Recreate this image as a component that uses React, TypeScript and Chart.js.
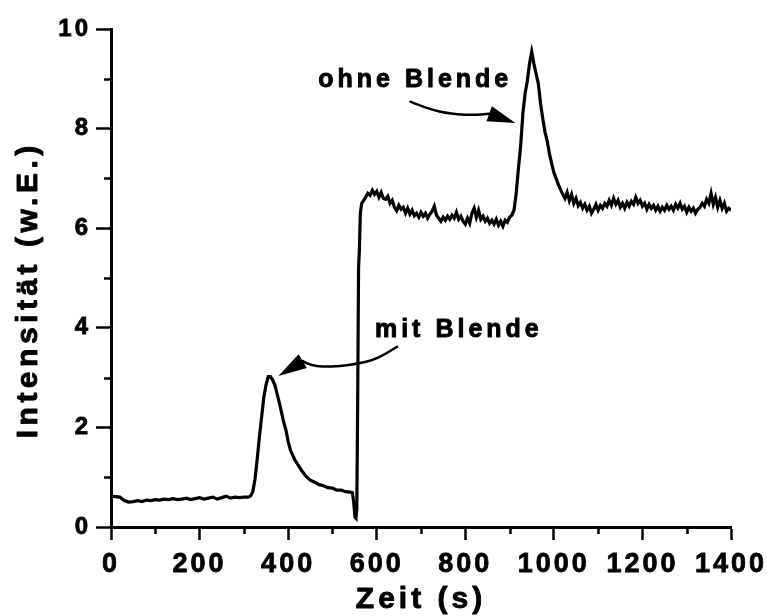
import React, { useEffect, useRef } from "react";
import { Chart, registerables } from "chart.js";

Chart.register(...registerables);

// ---- data (time in s, intensity in w.E.) ----
const baselineTimes = [0, 10, 20, 30, 40, 50, 60, 70, 80, 90, 100, 110, 120, 130, 140, 150, 160, 170, 180, 190, 200, 210, 220, 230, 240, 250, 260, 270, 280, 290, 300, 310];
const baselineValues = [0.62, 0.61, 0.6, 0.53, 0.5, 0.51, 0.53, 0.51, 0.54, 0.53, 0.55, 0.54, 0.56, 0.55, 0.57, 0.55, 0.56, 0.58, 0.55, 0.57, 0.59, 0.56, 0.58, 0.6, 0.56, 0.59, 0.62, 0.58, 0.6, 0.59, 0.6, 0.6];

const firstPeakTimes = [315, 320, 325, 330, 335, 340, 345, 350, 355, 360, 365, 370, 375, 380, 385, 390, 395, 400, 405, 410, 415, 420, 430, 440, 450, 460, 470, 480, 490, 500, 510, 520, 530, 540, 545];
const firstPeakValues = [0.62, 0.7, 0.95, 1.35, 1.8, 2.2, 2.6, 2.85, 3.02, 3.02, 2.95, 2.85, 2.68, 2.5, 2.3, 2.1, 1.95, 1.72, 1.55, 1.45, 1.35, 1.28, 1.14, 1.02, 0.94, 0.9, 0.85, 0.83, 0.79, 0.78, 0.74, 0.74, 0.71, 0.7, 0.69];

const jumpTimes = [548, 551, 553, 555, 557, 559, 561, 563, 566];
const jumpValues = [0.5, 0.2, 0.18, 0.35, 2.5, 5.2, 5.6, 6.3, 6.5];

const plateauTimes = [570, 575, 580, 585, 590, 595, 600, 605, 610, 615, 620, 625, 630, 635, 640, 645, 650, 655, 660, 665, 670, 675, 680, 685, 690, 695, 700, 705, 710, 715, 720, 725, 730, 735, 740, 745, 750, 755, 760, 765, 770, 775, 780, 785, 790, 795, 800, 805, 810, 815, 820, 825, 830, 835, 840, 845, 850, 855, 860, 865, 870, 875, 880, 885, 890, 895, 900, 905, 910];
const plateauValues = [6.55, 6.62, 6.7, 6.66, 6.76, 6.68, 6.74, 6.62, 6.72, 6.6, 6.58, 6.64, 6.5, 6.56, 6.42, 6.35, 6.46, 6.38, 6.42, 6.3, 6.4, 6.28, 6.36, 6.25, 6.3, 6.22, 6.32, 6.24, 6.3, 6.2, 6.28, 6.34, 6.44, 6.26, 6.2, 6.14, 6.22, 6.16, 6.24, 6.18, 6.26, 6.2, 6.32, 6.18, 6.24, 6.14, 6.08, 6.2, 6.1, 6.3, 6.4, 6.22, 6.36, 6.18, 6.24, 6.14, 6.2, 6.1, 6.16, 6.08, 6.18, 6.06, 6.14, 6.04, 6.16, 6.12, 6.22, 6.26, 6.36];

const secondPeakTimes = [915, 920, 925, 930, 935, 940, 945, 950, 955, 960, 965, 970, 975, 980, 985, 990, 995, 1000, 1005, 1010, 1015, 1020];
const secondPeakValues = [6.7, 7.2, 7.65, 8.3, 8.7, 8.95, 9.3, 9.54, 9.3, 9.1, 8.9, 8.5, 8.2, 7.93, 7.75, 7.5, 7.3, 7.12, 7.0, 6.88, 6.78, 6.68];

const tailTimes = [1025, 1030, 1035, 1040, 1045, 1050, 1055, 1060, 1065, 1070, 1075, 1080, 1085, 1090, 1095, 1100, 1105, 1110, 1115, 1120, 1125, 1130, 1135, 1140, 1145, 1150, 1155, 1160, 1165, 1170, 1175, 1180, 1185, 1190, 1195, 1200, 1205, 1210, 1215, 1220, 1225, 1230, 1235, 1240, 1245, 1250, 1255, 1260, 1265, 1270, 1275, 1280, 1285, 1290, 1295, 1300, 1305, 1310, 1315, 1320, 1325, 1330, 1335, 1340, 1345, 1350, 1355, 1360, 1365, 1370, 1375, 1380, 1385, 1390, 1395, 1400];
const tailValues = [6.6, 6.72, 6.55, 6.68, 6.5, 6.6, 6.45, 6.52, 6.4, 6.48, 6.36, 6.44, 6.3, 6.38, 6.48, 6.36, 6.46, 6.4, 6.5, 6.44, 6.56, 6.46, 6.6, 6.48, 6.56, 6.42, 6.5, 6.4, 6.52, 6.44, 6.54, 6.48, 6.62, 6.5, 6.56, 6.44, 6.5, 6.38, 6.48, 6.4, 6.46, 6.36, 6.44, 6.34, 6.42, 6.36, 6.46, 6.38, 6.44, 6.36, 6.48, 6.4, 6.5, 6.38, 6.44, 6.32, 6.42, 6.34, 6.4, 6.3, 6.38, 6.42, 6.5, 6.44, 6.58, 6.5, 6.7, 6.48, 6.62, 6.42, 6.56, 6.4, 6.5, 6.34, 6.4, 6.36];

// ---- axes ----
const xTickValues = [0, 200, 400, 600, 800, 1000, 1200, 1400];
const xMinorTicks = [100, 300, 500, 700, 900, 1100, 1300];
const yTickValues = [0, 2, 4, 6, 8, 10];
const yMinorTicks = [1, 3, 5, 7, 9];
const xTitle = "Zeit (s)";
const yTitle = "Intensität (w.E.)";

// ---- annotations (data coordinates) ----
const mitLabel = "mit Blende";
const mitLabelAnchor = [596, 3.82];
const mitArrowPath = [[646, 3.62], [619, 3.47], [592, 3.35], [556, 3.28], [517, 3.23], [479, 3.22], [450, 3.25], [433, 3.33]];
const mitArrowTip = [378, 3.03];

const ohneLabel = "ohne Blende";
const ohneLabelAnchor = [468, 8.84];
const ohneArrowPath = [[676, 8.54], [698, 8.46], [728, 8.37], [755, 8.32], [782, 8.29], [816, 8.27], [854, 8.3]];
const ohneArrowTip = [913, 8.11];

const FONT = '"Liberation Sans", Arial, Helvetica, sans-serif';

function buildPoints() {
  const segs: [number[], number[]][] = [
    [baselineTimes, baselineValues],
    [firstPeakTimes, firstPeakValues],
    [jumpTimes, jumpValues],
    [plateauTimes, plateauValues],
    [secondPeakTimes, secondPeakValues],
    [tailTimes, tailValues],
  ];
  const pts: { x: number; y: number }[] = [];
  segs.forEach(([ts, vs]) => ts.forEach((t, i) => pts.push({ x: t, y: vs[i] })));
  return pts;
}

function drawSpaced(ctx: CanvasRenderingContext2D, text: string, x: number, y: number, ls: number) {
  ctx.letterSpacing = ls + "px";
  ctx.textAlign = "left";
  ctx.lineWidth = 0.9;
  ctx.strokeStyle = "#000";
  ctx.lineJoin = "round";
  ctx.strokeText(text, x, y);
  ctx.fillText(text, x, y);
}

function drawArrow(chart: any, path: number[][], tip: number[]) {
  const ctx = chart.ctx as CanvasRenderingContext2D;
  const xs = chart.scales.x;
  const ys = chart.scales.y;
  const p = path.map(([t, v]) => [xs.getPixelForValue(t), ys.getPixelForValue(v)]);
  ctx.strokeStyle = "#000";
  ctx.lineWidth = 2.5;
  ctx.lineJoin = "round";
  ctx.lineCap = "round";
  ctx.beginPath();
  ctx.moveTo(p[0][0], p[0][1]);
  for (let i = 1; i < p.length - 1; i++) {
    const mx = (p[i][0] + p[i + 1][0]) / 2;
    const my = (p[i][1] + p[i + 1][1]) / 2;
    ctx.quadraticCurveTo(p[i][0], p[i][1], mx, my);
  }
  ctx.lineTo(p[p.length - 1][0], p[p.length - 1][1]);
  ctx.stroke();
  const base = p[p.length - 1];
  const tx = xs.getPixelForValue(tip[0]);
  const ty = ys.getPixelForValue(tip[1]);
  const dx = tx - base[0];
  const dy = ty - base[1];
  const len = Math.hypot(dx, dy);
  const nx = -dy / len;
  const ny = dx / len;
  const hw = 8;
  ctx.fillStyle = "#000";
  ctx.beginPath();
  ctx.moveTo(tx, ty);
  ctx.lineTo(base[0] + nx * hw, base[1] + ny * hw);
  ctx.lineTo(base[0] - nx * hw, base[1] - ny * hw);
  ctx.closePath();
  ctx.fill();
}

const decorPlugin = {
  id: "decor",
  beforeLayout(chart: any) {
    chart.ctx.letterSpacing = "3px";
  },
  beforeDraw(chart: any) {
    chart.ctx.letterSpacing = "3px";
  },
  afterDraw(chart: any) {
    const ctx = chart.ctx as CanvasRenderingContext2D;
    const xs = chart.scales.x;
    const ys = chart.scales.y;
    const area = chart.chartArea;
    ctx.save();
    ctx.strokeStyle = "#000";
    ctx.lineWidth = 2.5;
    ctx.lineCap = "butt";
    xMinorTicks.forEach((v) => {
      const px = Math.round(xs.getPixelForValue(v)) + 0.5;
      ctx.beginPath();
      ctx.moveTo(px, area.bottom);
      ctx.lineTo(px, area.bottom + 7);
      ctx.stroke();
    });
    yMinorTicks.forEach((v) => {
      const py = Math.round(ys.getPixelForValue(v)) + 0.5;
      ctx.beginPath();
      ctx.moveTo(area.left, py);
      ctx.lineTo(area.left - 7, py);
      ctx.stroke();
    });

    ctx.fillStyle = "#000";
    ctx.textBaseline = "alphabetic";
    // x title
    ctx.font = `bold 30px ${FONT}`;
    ctx.letterSpacing = "4px";
    const wx = ctx.measureText(xTitle).width - 4;
    drawSpaced(ctx, xTitle, (area.left + area.right) / 2 - wx / 2 - 2, 608, 4);
    // y title
    ctx.save();
    ctx.translate(37, (area.top + area.bottom) / 2 + 14);
    ctx.rotate(-Math.PI / 2);
    ctx.letterSpacing = "4.5px";
    const wy = ctx.measureText(yTitle).width - 4.5;
    drawSpaced(ctx, yTitle, -wy / 2, 0, 4.5);
    ctx.restore();

    // annotations
    ctx.font = `bold 25px ${FONT}`;
    drawSpaced(ctx, mitLabel, xs.getPixelForValue(mitLabelAnchor[0]), ys.getPixelForValue(mitLabelAnchor[1]), 4);
    drawSpaced(ctx, ohneLabel, xs.getPixelForValue(ohneLabelAnchor[0]), ys.getPixelForValue(ohneLabelAnchor[1]), 4);
    drawArrow(chart, mitArrowPath, mitArrowTip);
    drawArrow(chart, ohneArrowPath, ohneArrowTip);
    ctx.restore();
  },
};

export default function App() {
  const ref = useRef<HTMLCanvasElement | null>(null);
  useEffect(() => {
    if (!ref.current) return;
    const chart = new Chart(ref.current, {
      type: "line",
      data: {
        datasets: [
          {
            data: buildPoints(),
            borderColor: "#000",
            borderWidth: 3.2,
            pointRadius: 0,
            tension: 0,
            fill: false,
          },
        ],
      },
      options: {
        animation: false,
        responsive: false,
        devicePixelRatio: 1,
        layout: { padding: { left: 0, top: 29, right: 36, bottom: 0 } },
        plugins: { legend: { display: false }, tooltip: { enabled: false }, title: { display: false } },
        scales: {
          x: {
            type: "linear",
            min: 0,
            max: 1400,
            afterBuildTicks: (s: any) => {
              s.ticks = xTickValues.map((v) => ({ value: v }));
            },
            afterFit: (s: any) => {
              s.height = 89;
              s.paddingLeft = 0;
              s.paddingRight = 0;
            },
            border: { display: true, color: "#000", width: 3 },
            grid: { display: true, drawOnChartArea: false, drawTicks: true, tickLength: 13, tickWidth: 2.5, tickColor: "#000", color: "#000" },
            ticks: {
              color: "#000",
              padding: 8,
              maxRotation: 0,
              autoSkip: false,
              textStrokeColor: "#000",
              textStrokeWidth: 0.8,
              font: { family: FONT, size: 27, weight: "bold" },
              callback: (v: any) => String(v),
            },
          },
          y: {
            type: "linear",
            min: 0,
            max: 10,
            afterBuildTicks: (s: any) => {
              s.ticks = yTickValues.map((v) => ({ value: v }));
            },
            afterFit: (s: any) => {
              s.width = 111;
              s.paddingTop = 0;
              s.paddingBottom = 0;
            },
            border: { display: true, color: "#000", width: 3 },
            grid: { display: true, drawOnChartArea: false, drawTicks: true, tickLength: 15, tickWidth: 2.5, tickColor: "#000", color: "#000" },
            ticks: {
              color: "#000",
              padding: 5,
              autoSkip: false,
              textStrokeColor: "#000",
              textStrokeWidth: 0.8,
              font: { family: FONT, size: 24, weight: "bold" },
              callback: (v: any) => String(v),
            },
          },
        },
      },
      plugins: [decorPlugin],
    } as any);
    return () => chart.destroy();
  }, []);
  return (
    <div style={{ position: "fixed", left: 0, top: 0, width: 767, height: 616, background: "#fff" }}>
      <canvas ref={ref} width={767} height={616} style={{ width: 767, height: 616, display: "block" }} />
    </div>
  );
}
